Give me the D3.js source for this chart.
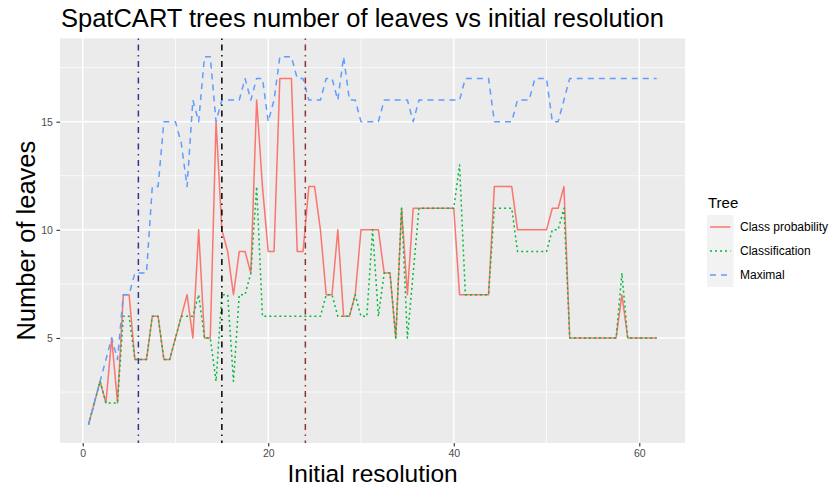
<!DOCTYPE html>
<html>
<head>
<meta charset="utf-8">
<script src="https://cdnjs.cloudflare.com/ajax/libs/d3/7.8.5/d3.min.js"></script>
<style>
body { margin: 0; background: #ffffff; }
svg { display: block; font-family: "Liberation Sans", Arial, Helvetica, sans-serif; }
</style>
</head>
<body>
<svg id="chart" width="831" height="487"></svg>
<script>
// initial resolution (x) of every fitted tree
var resolution = [
	0.625, 1.25, 1.875, 2.5, 3.125, 3.75, 4.375, 5, 5.625, 6.25,
	6.875, 7.5, 8.125, 8.75, 9.375, 10, 10.625, 11.25, 11.875, 12.5,
	13.125, 13.75, 14.375, 15, 15.625, 16.25, 16.875, 17.5, 18.125, 18.75,
	19.375, 20, 20.625, 21.25, 21.875, 22.5, 23.125, 23.75, 24.375, 25,
	25.625, 26.25, 26.875, 27.5, 28.125, 28.75, 29.375, 30, 30.625, 31.25,
	31.875, 32.5, 33.125, 33.75, 34.375, 35, 35.625, 36.25, 36.875, 37.5,
	38.125, 38.75, 39.375, 40, 40.625, 41.25, 41.875, 42.5, 43.125, 43.75,
	44.375, 45, 45.625, 46.25, 46.875, 47.5, 48.125, 48.75, 49.375, 50,
	50.625, 51.25, 51.875, 52.5, 53.125, 53.75, 54.375, 55, 55.625, 56.25,
	56.875, 57.5, 58.125, 58.75, 59.375, 60, 60.625, 61.25, 61.875
];

// number of leaves per tree
var classProbability = [
	1, 2, 3, 2, 5, 2, 7, 7, 4, 4,
	4, 6, 6, 4, 4, 5, 6, 7, 5, 10,
	5, 5, 15, 10, 9, 7, 9, 9, 8, 16,
	12, 9, 9, 17, 17, 17, 9, 9, 12, 12,
	10, 7, 7, 10, 6, 6, 7, 10, 10, 10,
	10, 8, 8, 5, 11, 7, 11, 11, 11, 11,
	11, 11, 11, 11, 7, 7, 7, 7, 7, 7,
	12, 12, 12, 12, 10, 10, 10, 10, 10, 10,
	11, 11, 12, 5, 5, 5, 5, 5, 5, 5,
	5, 5, 7, 5, 5, 5, 5, 5, 5
];
var classification = [
	1, 2, 3, 2, 2, 2, 6, 6, 4, 4,
	4, 6, 6, 4, 4, 5, 6, 6, 6, 7,
	5, 5, 3, 7, 7, 3, 7, 7, 8, 12,
	6, 6, 6, 6, 6, 6, 6, 6, 6, 6,
	6, 7, 7, 6, 6, 6, 7, 6, 6, 10,
	6, 8, 8, 5, 11, 5, 8, 11, 11, 11,
	11, 11, 11, 11, 13, 7, 7, 7, 7, 7,
	11, 11, 11, 11, 9, 9, 9, 9, 9, 9,
	10, 10, 11, 5, 5, 5, 5, 5, 5, 5,
	5, 5, 8, 5, 5, 5, 5, 5, 5
];
var maximal = [
	1, 2, 3, 4, 5, 4, 7, 7, 8, 8,
	8, 12, 12, 15, 15, 15, 14, 12, 16, 15,
	18, 18, 15, 16, 16, 16, 16, 17, 16, 17,
	17, 15, 16, 18, 18, 18, 17, 17, 16, 16,
	16, 17, 17, 16, 18, 16, 16, 15, 15, 15,
	15, 16, 16, 16, 16, 16, 15, 16, 16, 16,
	16, 16, 16, 16, 16, 17, 17, 17, 17, 17,
	15, 15, 15, 15, 16, 16, 16, 17, 17, 17,
	15, 15, 16, 17, 17, 17, 17, 17, 17, 17,
	17, 17, 17, 17, 17, 17, 17, 17, 17
];

var seriesNames = ['Class probability', 'Classification', 'Maximal'];
var seriesColours = ['#F8766D', '#00BA38', '#619CFF'];
var seriesDashes = [null, '2,3', '6,5'];

// reference resolutions marked with vertical lines
var markers = [6, 15, 24];
var markerColours = ['#34348c', '#000000', '#8c3434'];

var xTicks = [0, 20, 40, 60];
var xMinor = [10, 30, 50];
var yTicks = [5, 10, 15];
var yMinor = [2.5, 7.5, 12.5, 17.5];

var svg = d3.select('#chart');

// ggplot style: 5% padding around the data range
var xs = d3.scaleLinear().domain([-2.4375, 64.9375]).range([60.1, 685.1]);
var ys = d3.scaleLinear().domain([0.15, 18.85]).range([442.9, 38.4]);

var panel = svg.append('g');
panel.append('rect')
	.attr('x', xs.range()[0]).attr('y', ys.range()[1])
	.attr('width', xs.range()[1] - xs.range()[0])
	.attr('height', ys.range()[0] - ys.range()[1])
	.attr('fill', '#EBEBEB');

function gridX(vals, w)
{
	panel.selectAll(null).data(vals).enter().append('line')
		.attr('x1', d => xs(d)).attr('x2', d => xs(d))
		.attr('y1', ys.range()[0]).attr('y2', ys.range()[1])
		.attr('stroke', '#ffffff').attr('stroke-width', w);
}
function gridY(vals, w)
{
	panel.selectAll(null).data(vals).enter().append('line')
		.attr('y1', d => ys(d)).attr('y2', d => ys(d))
		.attr('x1', xs.range()[0]).attr('x2', xs.range()[1])
		.attr('stroke', '#ffffff').attr('stroke-width', w);
}
gridX(xMinor, 0.75);
gridY(yMinor, 0.75);
gridX(xTicks, 1.5);
gridY(yTicks, 1.5);

// series lines
var series = [classProbability, classification, maximal];
var line = d3.line()
	.x((d, i) => xs(resolution[i]))
	.y(d => ys(d));

for (var s = 0; s < series.length; s++)
{
	svg.append('path')
		.attr('d', line(series[s]))
		.attr('fill', 'none')
		.attr('stroke', seriesColours[s])
		.attr('stroke-width', 1.5)
		.attr('stroke-dasharray', seriesDashes[s])
		.attr('stroke-linejoin', 'round');
}

// vertical marker lines (dotdash)
svg.selectAll(null).data(markers).enter().append('line')
	.attr('x1', d => xs(d)).attr('x2', d => xs(d))
	.attr('y1', ys.range()[1]).attr('y2', ys.range()[0])
	.attr('stroke', (d, i) => markerColours[i])
	.attr('stroke-width', 1.5)
	.attr('stroke-dasharray', '1.5,4.5,6,4.5');

// axes
var xAxis = d3.axisBottom(xs).tickValues(xTicks).tickSize(3.7).tickPadding(2.5);
var gx = svg.append('g').attr('transform', 'translate(0,' + ys.range()[0] + ')').call(xAxis);
var yAxis = d3.axisLeft(ys).tickValues(yTicks).tickSize(3.7).tickPadding(3.5);
var gy = svg.append('g').attr('transform', 'translate(' + xs.range()[0] + ',0)').call(yAxis);

[gx, gy].forEach(g => {
	g.select('.domain').remove();
	g.selectAll('.tick line').attr('stroke', '#333333').attr('stroke-width', 1.1);
	g.selectAll('.tick text').attr('fill', '#4D4D4D').style('font-size', '10.5px')
		.style('font-family', '"Liberation Sans", Arial, sans-serif');
});

// titles
svg.append('text')
	.attr('x', 61).attr('y', 27)
	.style('font-size', '25.5px')
	.attr('fill', '#000000')
	.text('SpatCART trees number of leaves vs initial resolution');

svg.append('text')
	.attr('x', (xs.range()[0] + xs.range()[1]) / 2).attr('y', 481.5)
	.attr('text-anchor', 'middle')
	.style('font-size', '24.5px')
	.text('Initial resolution');

svg.append('text')
	.attr('transform', 'translate(35,' + ((ys.range()[0] + ys.range()[1]) / 2) + ') rotate(-90)')
	.attr('text-anchor', 'middle')
	.style('font-size', '25.5px')
	.text('Number of leaves');

// legend
var legend = svg.append('g').attr('transform', 'translate(707,0)');
legend.append('text')
	.attr('x', 1).attr('y', 207.5)
	.style('font-size', '15px')
	.text('Tree');

var keyH = 24;
var keys = legend.selectAll('g.key').data(seriesNames).enter().append('g')
	.attr('class', 'key')
	.attr('transform', (d, i) => 'translate(0,' + (215 + i * keyH) + ')');
keys.append('rect')
	.attr('width', 26.5).attr('height', keyH)
	.attr('fill', '#F2F2F2');
keys.append('line')
	.attr('x1', 3).attr('x2', 23.5)
	.attr('y1', keyH / 2).attr('y2', keyH / 2)
	.attr('stroke', (d, i) => seriesColours[i])
	.attr('stroke-width', 1.5)
	.attr('stroke-dasharray', (d, i) => seriesDashes[i]);
keys.append('text')
	.attr('x', 33).attr('y', keyH / 2)
	.attr('dy', '0.35em')
	.style('font-size', '12px')
	.text(d => d);
</script>
</body>
</html>
